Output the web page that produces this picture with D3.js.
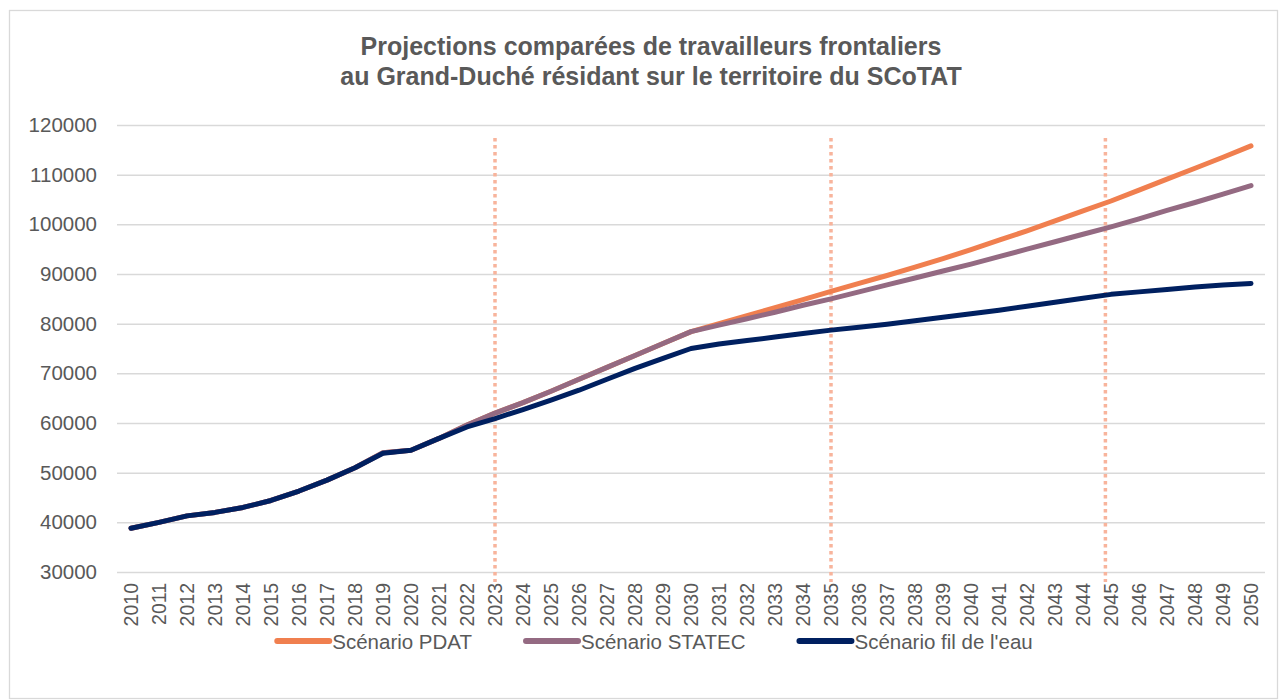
<!DOCTYPE html>
<html>
<head>
<meta charset="utf-8">
<script src="https://d3js.org/d3.v7.min.js"></script>
<style>
  body { margin: 0; background: #fff; }
  #chartDiv { width: 1284px; height: 700px; }
  text { font-family: "Liberation Sans", Arial, sans-serif; fill: #595959; }
</style>
</head>
<body>
<div id="chartDiv"></div>
<script>
// Data
const years = d3.range(2010, 2051).map(String);

const pdat = [38800, 40000, 41300, 42000, 43000, 44400, 46300, 48500, 51000, 54000,
  54500, 56900, 59600, 62000, 64100, 66400, 68800, 71200, 73600, 76000,
  78400, 80000, 81600, 83200, 84850, 86500, 88100, 89700, 91400, 93100,
  94900, 96800, 98700, 100700, 102700, 104700, 106900, 109100, 111300, 113500, 115800];

const statec = [38800, 40000, 41300, 42000, 43000, 44400, 46300, 48500, 51000, 54000,
  54500, 56900, 59600, 62000, 64100, 66400, 68800, 71200, 73600, 76000,
  78400, 79700, 81000, 82300, 83700, 85000, 86400, 87800, 89200, 90600,
  92000, 93500, 95000, 96500, 98000, 99500, 101100, 102800, 104400, 106100, 107800];

const filDeLEau = [38800, 40000, 41300, 42000, 43000, 44400, 46300, 48500, 51000, 53900,
  54500, 56900, 59200, 60900, 62700, 64600, 66600, 68800, 71000, 73000,
  75000, 75900, 76600, 77300, 78000, 78700, 79300, 79900, 80600, 81300,
  82000, 82700, 83500, 84300, 85100, 85900, 86400, 86900, 87400, 87800, 88100];

const seriesNames = ['Scénario PDAT', 'Scénario STATEC', "Scénario fil de l'eau"];
const seriesColors = ['#F07F4F', '#946A82', '#002060'];
const yTickValues = [30000, 40000, 50000, 60000, 70000, 80000, 90000, 100000, 110000, 120000];
const markerYears = [2023, 2035, 2044.8];

const titleLines = ['Projections comparées de travailleurs frontaliers',
  'au Grand-Duché résidant sur le territoire du SCoTAT'];

// Build Variables
const vars = {
  width: 1284,
  height: 700,
  margin: { left: 117, right: 19, top: 125, bottom: 128 }
};

const innerW = vars.width - vars.margin.left - vars.margin.right;
const innerH = vars.height - vars.margin.top - vars.margin.bottom;

let svg = d3.select('#chartDiv').append('svg')
  .attr('width', vars.width)
  .attr('height', vars.height);

// chart border
svg.append('rect')
  .attr('x', 9.5).attr('y', 10.5)
  .attr('width', 1268).attr('height', 688)
  .attr('fill', 'none')
  .attr('stroke', '#D9D9D9')
  .attr('stroke-width', 1.3);

// Title
svg.append('text')
  .attr('text-anchor', 'middle')
  .style('font-size', '25px')
  .style('font-weight', 'bold')
  .selectAll('tspan')
  .data(titleLines)
  .enter().append('tspan')
    .attr('x', 651)
    .attr('y', (d, i) => 55 + i * 30)
    .text(d => d);

let gObj = svg.append('g')
  .attr('transform', `translate(${vars.margin.left},${vars.margin.top})`);

// Scales
const xScale = d3.scaleBand()
  .domain(years)
  .range([0, innerW])
  .padding(0);

const xCenter = d => xScale(d) + xScale.bandwidth() / 2;

// linear helper for the dotted markers
const xYear = d3.scaleLinear()
  .domain([2010, 2050])
  .range([xCenter('2010'), xCenter('2050')]);

const yScale = d3.scaleLinear()
  .domain([30000, 120000])
  .range([innerH, 0]);

// Y gridlines + labels
const yAxis = d3.axisLeft(yScale)
  .tickValues(yTickValues)
  .tickSize(-innerW)
  .tickPadding(20)
  .tickFormat(d3.format('d'));

const yAxisG = gObj.append('g').call(yAxis);
yAxisG.select('.domain').remove();
yAxisG.selectAll('.tick line')
  .attr('stroke', '#D9D9D9')
  .attr('stroke-width', 1.5);
yAxisG.selectAll('.tick text')
  .style('font-size', '20.5px')
  .attr('fill', '#595959');

// X axis labels (rotated)
const xAxis = d3.axisBottom(xScale).tickSize(0).tickPadding(0);
const xAxisG = gObj.append('g')
  .attr('transform', `translate(0, ${innerH})`)
  .call(xAxis);
xAxisG.select('.domain').remove();
xAxisG.selectAll('.tick text')
  .attr('transform', 'rotate(-90)')
  .attr('text-anchor', 'end')
  .attr('dominant-baseline', 'central')
  .attr('x', -11)
  .attr('y', 0)
  .attr('dy', 0)
  .style('font-size', '19.5px')
  .attr('fill', '#595959');

// dotted vertical markers
gObj.selectAll('.marker')
  .data(markerYears)
  .enter().append('line')
    .attr('class', 'marker')
    .attr('x1', d => xYear(d))
    .attr('x2', d => xYear(d))
    .attr('y1', 13)
    .attr('y2', innerH + 10)
    .attr('stroke', '#F8B49C')
    .attr('stroke-width', 3.5)
    .attr('stroke-dasharray', '3.5,3.5');

// Lines
const seriesData = [pdat, statec, filDeLEau];
const lineGen = d3.line()
  .x((d, i) => xCenter(years[i]))
  .y(d => yScale(d));

gObj.selectAll('.series')
  .data(seriesData)
  .enter().append('path')
    .attr('class', 'series')
    .attr('d', d => lineGen(d))
    .attr('fill', 'none')
    .attr('stroke', (d, i) => seriesColors[i])
    .attr('stroke-width', 5)
    .attr('stroke-linejoin', 'round')
    .attr('stroke-linecap', 'round');

// Legend
const legend = svg.append('g');
let legendX = 0;
seriesNames.forEach((name, i) => {
  const item = legend.append('g');
  item.append('line')
    .attr('x1', 0).attr('x2', 52)
    .attr('y1', 0).attr('y2', 0)
    .attr('stroke', seriesColors[i])
    .attr('stroke-width', 6)
    .attr('stroke-linecap', 'round');
  const t = item.append('text')
    .attr('x', 55)
    .attr('dominant-baseline', 'central')
    .style('font-size', '20.5px')
    .text(name);
  item.attr('transform', `translate(${legendX},0)`);
  legendX += 55 + t.node().getComputedTextLength() + 54;
});
const legendW = legendX - 54;
legend.attr('transform', `translate(${655 - legendW / 2}, 641)`);
</script>
</body>
</html>
